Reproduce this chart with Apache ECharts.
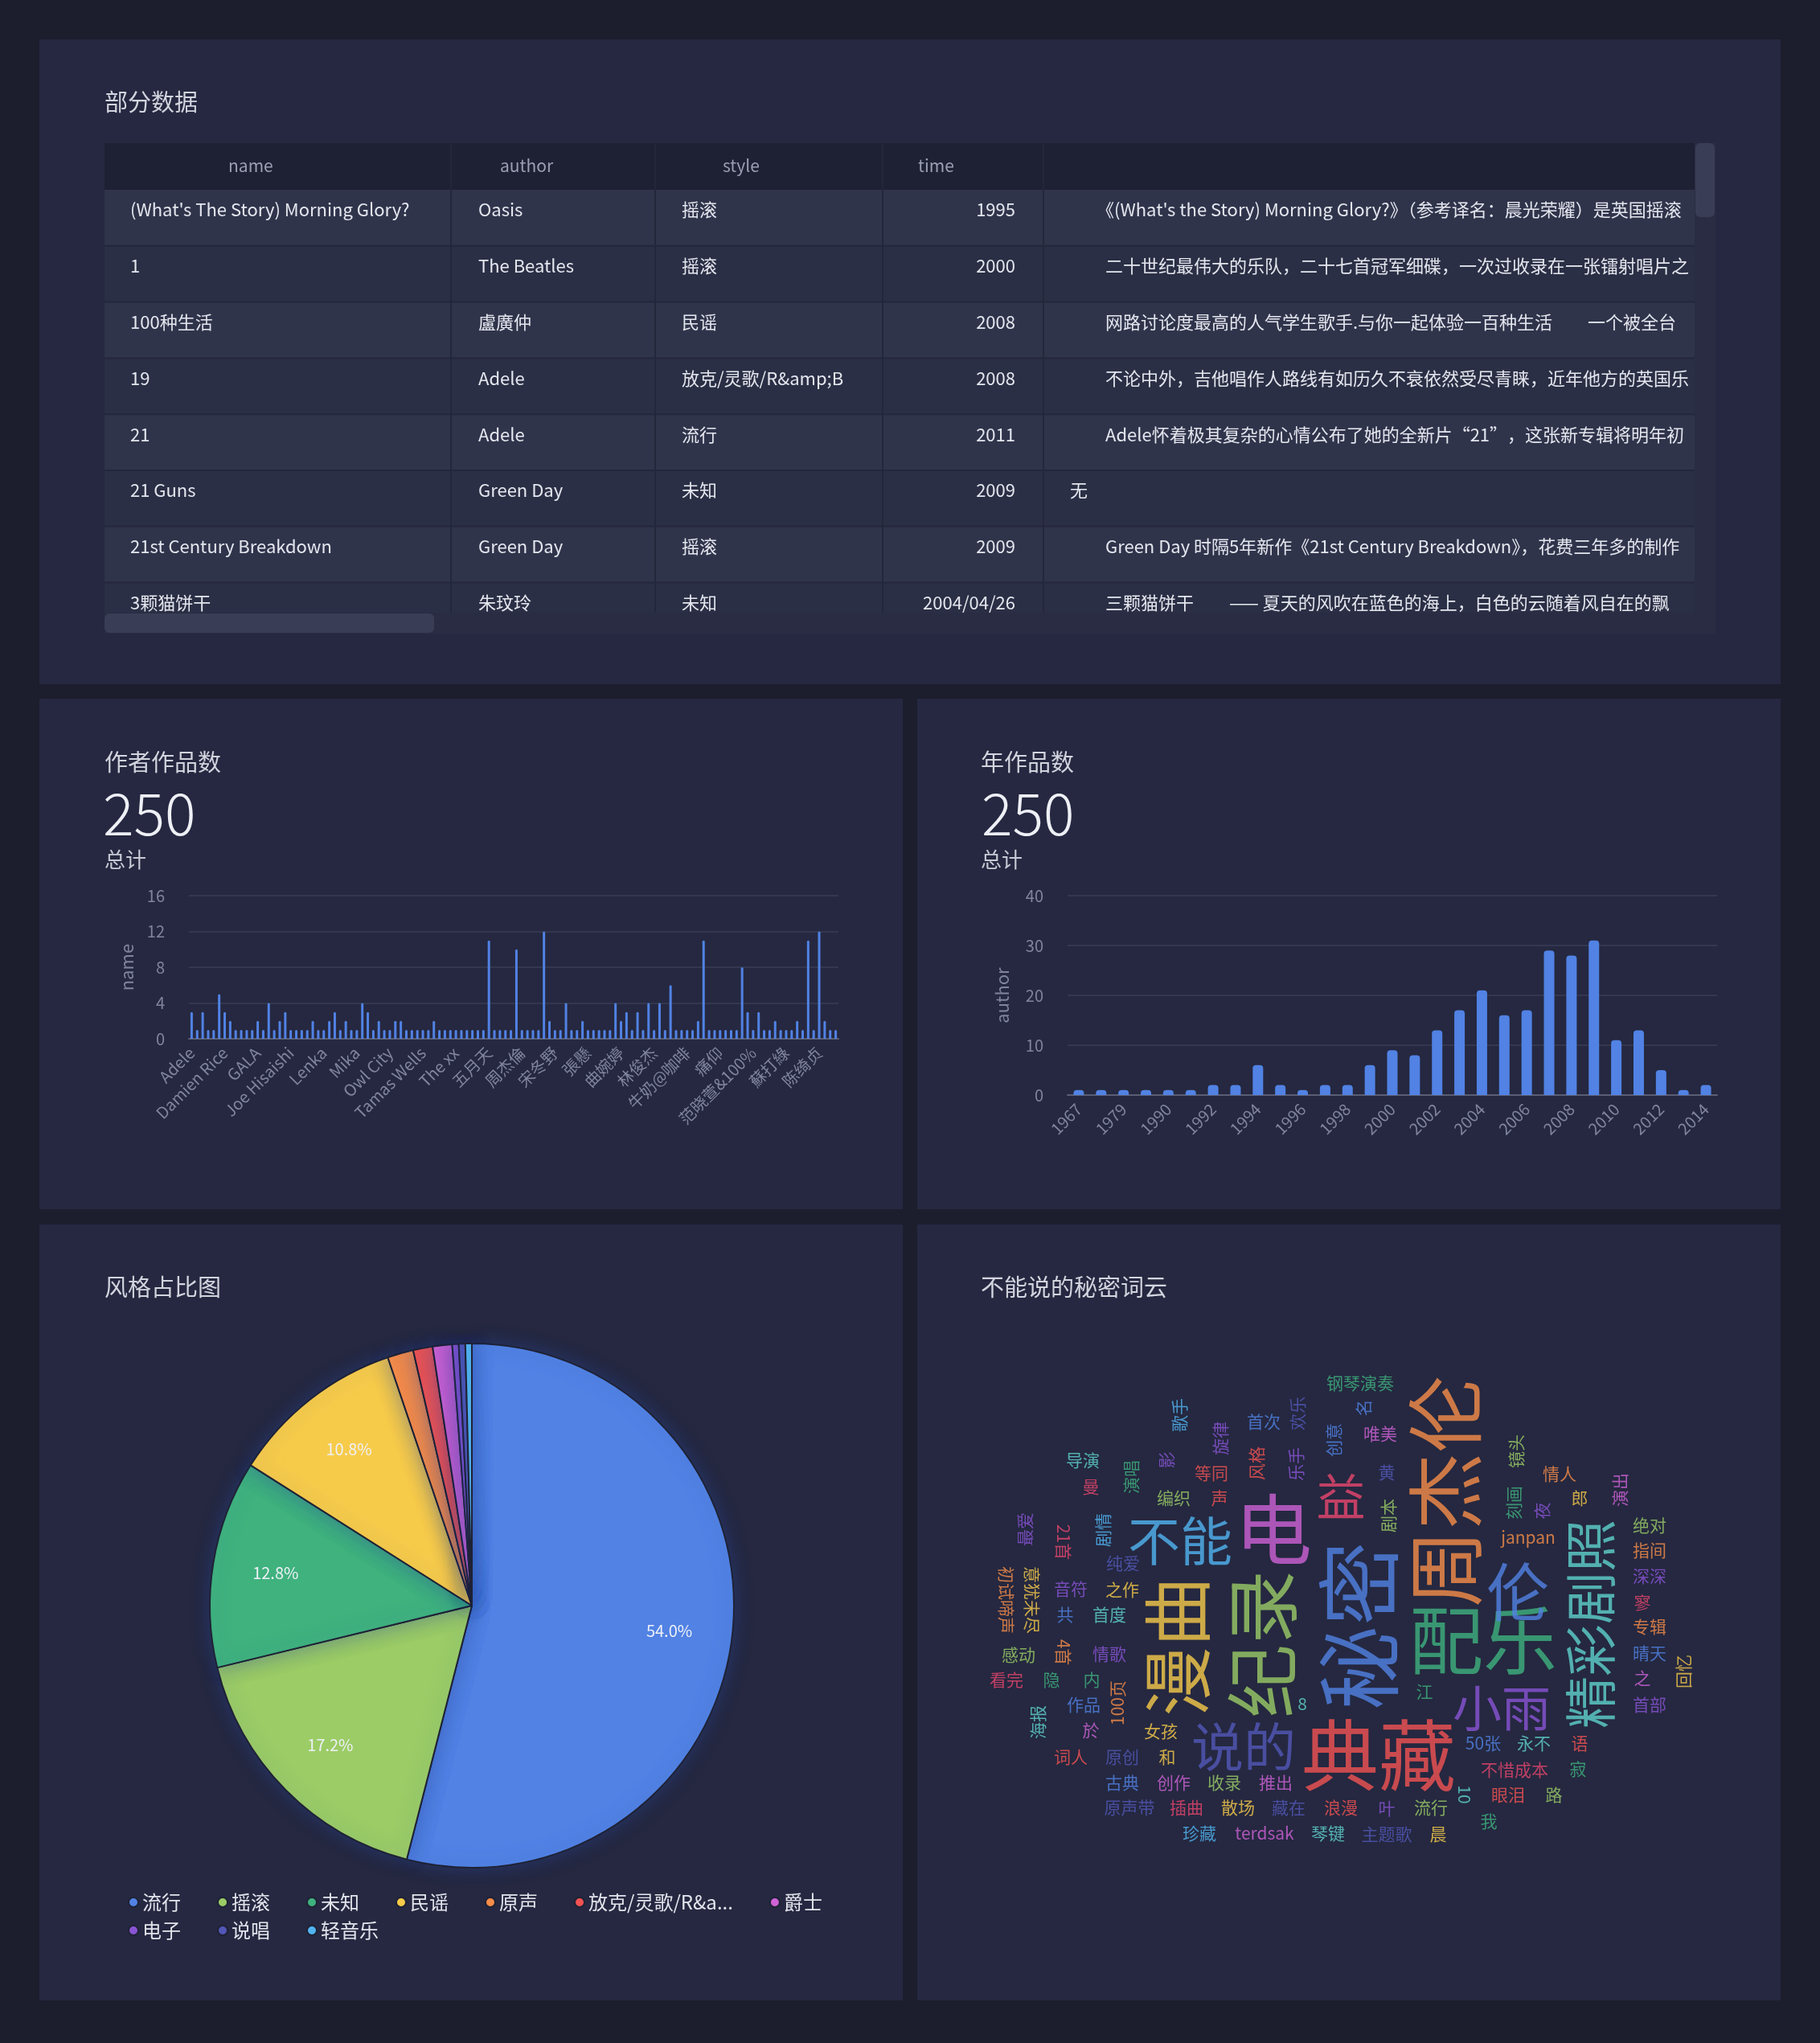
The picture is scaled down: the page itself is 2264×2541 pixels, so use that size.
<!DOCTYPE html>
<html>
<head>
<meta charset="utf-8">
<script src="https://cdn.jsdelivr.net/npm/echarts@6/dist/echarts.min.js"></script>
<style>
html,body{margin:0;padding:0;background:#1c1e2e;}
#wrap{position:relative;width:2264px;height:2541px;overflow:hidden;}
.panel{position:absolute;background:#252840;}
#c{position:absolute;left:0;top:0;width:2264px;height:2541px;}
</style>
</head>
<body>
<div id="wrap">
<div class="panel" style="left:49px;top:49px;width:2166px;height:802px"></div>
<div class="panel" style="left:49px;top:869px;width:1074px;height:635px"></div>
<div class="panel" style="left:1141px;top:869px;width:1074px;height:635px"></div>
<div class="panel" style="left:49px;top:1523px;width:1074px;height:965px"></div>
<div class="panel" style="left:1141px;top:1523px;width:1074px;height:965px"></div>
<div id="c"></div>
</div>
<script>
// ---------------- DATA ----------------
const tableColumns = ['name', 'author', 'style', 'time'];
const tableName = ["(What's The Story) Morning Glory?", "1", "100种生活", "19", "21", "21 Guns", "21st Century Breakdown", "3颗猫饼干"];
const tableAuthor = ["Oasis", "The Beatles", "盧廣仲", "Adele", "Adele", "Green Day", "Green Day", "朱玟玲"];
const tableStyle = ["摇滚", "摇滚", "民谣", "放克/灵歌/R&amp;B", "流行", "未知", "摇滚", "未知"];
const tableTime = ["1995", "2000", "2008", "2008", "2011", "2009", "2009", "2004/04/26"];
const tableDesc = [
  "　　《(What's the Story) Morning Glory?》（参考译名：晨光荣耀）是英国摇滚乐队Oasis的第二张录音室专辑",
  "　　二十世纪最伟大的乐队，二十七首冠军细碟，一次过收录在一张镭射唱片之中",
  "　　网路讨论度最高的人气学生歌手.与你一起体验一百种生活　　一个被全台湾网友热烈讨论的名字",
  "　　不论中外，吉他唱作人路线有如历久不衰依然受尽青睐，近年他方的英国乐坛更是如此",
  "　　Adele怀着极其复杂的心情公布了她的全新片“21”，这张新专辑将明年初发行",
  "无",
  "　　Green Day 时隔5年新作《21st Century Breakdown》，花费三年多的制作时间",
  "　　三颗猫饼干　　—— 夏天的风吹在蓝色的海上，白色的云随着风自在的飘"
];

const authorNames = [
  'Adele','Aimer','Avril Lavigne','Beyond','Bruno Mars','Coldplay','Damien Rice','Dido','Eagles','Eminem',
  'Enya','Explosions in the Sky','GALA','Glen Hansard','Green Day','Hanson','Hoobastank','Jason Mraz','Joe Hisaishi','John Lennon',
  'Justin Bieber','Keane','Kenny G','Lady Gaga','Lenka','Lily Allen','Linkin Park','Maroon 5','Michael Jackson','Michael Learns To Rock',
  'Mika','Muse','Norah Jones','Oasis','One Direction','OneRepublic','Owl City','Radiohead','Rihanna','S.H.E',
  'Sigur Rós','Suede','Tamas Wells','Taylor Swift','The Beatles','The Carpenters','The Cranberries','The Script','The xx','Westlife',
  'Yiruma','丁当','万能青年旅店','久石让','五月天','伍佰','光良','刘若英','周传雄','周杰伦',
  '周杰倫','品冠','好妹妹乐队','姜育恒','孙燕姿','宇多田光','宋冬野','庾澄庆','张学友','张惠妹',
  '张悬','张震岳','張懸','後弦','徐佳莹','戴佩妮','方大同','易桀齐','曲婉婷','李健',
  '李宗盛','李志','李荣浩','杨乃文','林俊杰','林宥嘉','林忆莲','梁静茹','水木年华','汪峰',
  '牛奶@咖啡','王力宏','王菲','田馥甄','电台情歌','留声','痛仰','白安','石进','程璧',
  '羽泉','老狼','范晓萱&100%','莫文蔚','萧敬腾','落日飞车','蔡依林','蔡健雅','蘇打綠','许巍',
  '谢安琪','赵雷','逃跑计划','邓紫棋','陈绮贞','陶喆','面孔','齐秦'
];
const authorCounts = [
  3,1,3,1,1,5,3,2,1,1,
  1,1,2,1,4,1,2,3,1,1,
  1,1,2,1,1,2,3,1,2,1,
  1,4,3,1,2,1,1,2,2,1,
  1,1,1,1,2,1,1,1,1,1,
  1,1,1,1,11,1,1,1,1,10,
  1,1,1,1,12,2,1,1,4,1,
  1,2,1,1,1,1,1,4,2,3,
  1,3,1,4,1,4,1,6,1,1,
  1,1,2,11,1,1,1,1,1,1,
  8,3,1,3,1,1,2,1,1,1,
  2,1,11,1,12,2,1,1
];

const yearLabels = ['1967','1975','1979','1985','1990','1991','1992','1993','1994','1995','1996','1997','1998','1999','2000','2001','2002','2003','2004','2005','2006','2007','2008','2009','2010','2011','2012','2013','2014'];
const yearCounts = [1,1,1,1,1,1,2,2,6,2,1,2,2,6,9,8,13,17,21,16,17,29,28,31,11,13,5,1,2];

const styleNames = ['流行','摇滚','未知','民谣','原声','放克/灵歌/R&amp;B','爵士','电子','说唱','轻音乐'];
const styleCounts = [135,43,32,27,4,3,3,1,1,1];

const cloudWords = [
  '秘密','周杰伦','典藏','电','配乐','纪录','漫曲','伦','精彩剧照','不能','说的','小雨','益',
  '钢琴演奏','歌手','首次','欢乐','旋律','创意','导演','曼','演唱','影','等同','风格','乐手','编织','声',
  '最爱','21首','剧情','纯爱','初试啼声','意犹未尽','音符','之作','共','首度','名','唯美','黄','剧本','镜头',
  '情人','演出','刻画','夜','郎','janpan','绝对','指间','深深','寥','感动','4首','情歌','看完','隐','内',
  '100页','作品','海报','於','女孩','8','词人','原创','和','古典','创作','收录','推出','原声带','插曲','散场',
  '藏在','浪漫','珍藏','terdsak','琴键','专辑','晴天','回忆','之','首部','江','50张','永不','语','不惜成本',
  '寂','10','眼泪','路','叶','流行','我','主题歌','晨'];
const cloudWeights = [
  20,18,18,18,17,17,16,14,11,11,11,10,10,
  1,1,1,1,1,1,1,1,1,1,1,1,1,1,1,
  1,1,1,1,1,1,1,1,1,1,1,1,1,1,1,
  1,1,1,1,1,1,1,1,1,1,1,1,1,1,1,1,
  1,1,1,1,1,1,1,1,1,1,1,1,1,1,1,1,
  1,1,1,1,1,1,1,1,1,1,1,1,1,1,1,
  1,1,1,1,1,1,1,1,1];

// ---------------- LAYOUT / STYLE ----------------
const FONT = '"Noto Sans CJK SC","Noto Sans",sans-serif';
const palette = ['#5182E4','#9BCC66','#3FB27E','#F7CB4A','#F88D48','#F35352','#CE62D6','#8954D4','#5257B8','#51B4F1','#5FD2CC','#E8466E'];
// word cloud placement (canvas px): x, y, rotate, colour index
const cloudLayout = [
  [1690,2022,90,0],[1798,1855,90,4],[1715,2183,0,5],[1584,1902,0,6],[1845,2040,0,2],[1570,2045,90,1],[1465,2048,90,3],
  [1888,1980,0,0],[1978,2020,90,10],[1468,1916,0,9],[1547,2172,0,8],[1868,2125,0,7],[1668,1862,0,11],
  [1692,1720,0,2],[1467,1760,90,9],[1572,1768,0,0],[1614,1758,90,8],[1518,1789,90,7],[1659,1791,90,0],[1347,1816,0,10],
  [1357,1849,0,11],[1407,1837,90,2],[1451,1816,90,7],[1507,1832,0,5],[1563,1820,90,5],[1612,1821,90,7],[1460,1863,0,1],[1517,1863,0,5],
  [1275,1902,90,7],[1323,1918,-90,11],[1372,1903,90,9],[1397,1944,0,8],[1252,1990,-90,4],[1284,1990,-90,3],[1332,1976,0,7],
  [1396,1977,0,3],[1325,2008,0,0],[1380,2008,0,10],[1696,1751,90,0],[1717,1783,0,6],[1725,1831,0,8],[1727,1885,90,1],[1886,1805,90,1],
  [1940,1833,0,4],[2015,1853,90,6],[1883,1869,90,2],[1918,1879,90,7],[1965,1863,0,3],[1901,1912,0,4],[2052,1897,0,1],[2052,1928,0,4],
  [2052,1960,0,7],[2043,1993,0,11],[1267,2058,0,1],[1323,2055,-90,4],[1380,2057,0,7],[1252,2089,0,11],[1308,2089,0,2],[1358,2089,0,2],
  [1390,2118,90,4],[1348,2120,0,0],[1291,2142,90,10],[1357,2152,0,6],[1444,2153,0,3],[1620,2119,0,10],[1332,2185,0,5],[1396,2185,0,8],
  [1452,2185,0,3],[1396,2217,0,0],[1460,2217,0,6],[1523,2217,0,1],[1587,2217,0,6],[1405,2248,0,8],[1476,2248,0,11],[1540,2248,0,3],
  [1603,2248,0,8],[1668,2248,0,5],[1492,2280,0,9],[1573,2280,0,6],[1652,2280,0,10],[2052,2023,0,4],[2052,2056,0,0],[2094,2079,90,3],
  [2043,2087,0,6],[2052,2120,0,7],[1772,2104,0,2],[1845,2168,0,0],[1908,2168,0,10],[1965,2168,0,5],[1884,2201,0,11],
  [1963,2200,0,2],[1822,2232,-90,10],[1876,2232,0,5],[1933,2232,0,1],[1725,2249,0,7],[1780,2248,0,1],[1852,2265,0,2],[1725,2281,0,8],[1789,2281,0,3]
];

// ---------------- BUILD ----------------
const total = authorCounts.reduce((a, b) => a + b, 0);
const yearTotal = yearCounts.reduce((a, b) => a + b, 0);

function txt(x, y, text, st) {
  return {
    type: 'text', x: x, y: y, z: 10, silent: true,
    style: Object.assign({
      text: text, fill: '#e4e6ee', fontSize: 22, fontFamily: FONT,
      textAlign: 'left', align: 'left', textVerticalAlign: 'middle', verticalAlign: 'middle'
    }, st || {})
  };
}
function rect(x, y, w, h, fill, r) {
  return { type: 'rect', z: 5, silent: true, shape: { x: x, y: y, width: w, height: h, r: r || 0 }, style: { fill: fill } };
}

const graphics = [];
// table
const colX = [130, 561, 815, 1098, 1298, 2108];
const headTop = 178, headH = 58, rowH = 69.8, bodyBottom = 762;
graphics.push(rect(130, headTop, 1978, headH, '#1e2134'));
for (let i = 0; i < tableName.length; i++) {
  const top = headTop + headH + i * rowH;
  const h = Math.min(rowH, bodyBottom - top);
  graphics.push(rect(130, top, 1978, h, i % 2 === 0 ? '#30344b' : '#2b2f45'));
  if (i > 0) graphics.push(rect(130, top - 1, 1978, 2, '#24273b'));
}
for (let c = 1; c < 5; c++) graphics.push(rect(colX[c] - 1, headTop, 2, bodyBottom - headTop, '#24273b'));
const headTextX = [284, 622, 899, 1142];
tableColumns.forEach((col, c) => graphics.push(txt(headTextX[c], headTop + 28, col, { fill: '#9a9eb3', fontSize: 21 })));
for (let i = 0; i < tableName.length; i++) {
  const y = headTop + headH + i * rowH + 25;
  graphics.push(txt(162, y, tableName[i]));
  graphics.push(txt(595, y, tableAuthor[i]));
  graphics.push(txt(848, y, tableStyle[i]));
  graphics.push(txt(1263, y, tableTime[i], { textAlign: 'right', align: 'right' }));
  graphics.push(txt(1331, y, tableDesc[i], { width: 777, overflow: 'truncate', ellipsis: '' }));
}
// scrollbars
graphics.push(rect(130, 762, 1978, 26, '#292c42'));
graphics.push(rect(130, 763, 410, 24, '#393d55', 6));
graphics.push(rect(2108, 178, 26, 610, '#292c42'));
graphics.push(rect(2109, 178, 24, 92, '#393d55', 6));

// titles and KPIs
graphics.push(txt(130, 127, '部分数据', { fontSize: 29, fill: '#d2d4de' }));
graphics.push(txt(130, 948, '作者作品数', { fontSize: 29, fill: '#d2d4de' }));
graphics.push(txt(128, 1012, String(total), { fontSize: 72, fill: '#eef0f6', fontWeight: 300 }));
graphics.push(txt(130, 1069, '总计', { fontSize: 26, fill: '#c8cad6' }));
graphics.push(txt(1220, 948, '年作品数', { fontSize: 29, fill: '#d2d4de' }));
graphics.push(txt(1221, 1012, String(yearTotal), { fontSize: 72, fill: '#eef0f6', fontWeight: 300 }));
graphics.push(txt(1220, 1069, '总计', { fontSize: 26, fill: '#c8cad6' }));
graphics.push(txt(130, 1601, '风格占比图', { fontSize: 29, fill: '#d2d4de' }));
graphics.push(txt(1220, 1601, '不能说的秘密词云', { fontSize: 29, fill: '#d2d4de' }));

const axisLabelColor = '#80859b';
const splitColor = '#33374f';
const pieData = styleNames.map((n, i) => ({ name: n, value: styleCounts[i] }));
const cloudData = cloudWords.map((w, i) => {
  const L = cloudLayout[i];
  const wt = cloudWeights[i];
  return {
    name: w, value: [L[0], L[1]],
    label: { formatter: w, fontSize: Math.round(21 + (wt - 1) * 84 / 19), rotate: L[2], color: palette[L[3]] }
  };
});

const legendBase = {
  padding: 0, icon: 'circle', itemWidth: 12, itemHeight: 12, itemGap: 45, selectedMode: false,
  formatter: n => (n.length > 10 ? n.slice(0, 9) + '...' : n),
  textStyle: { color: '#e2e4ec', fontSize: 24, fontFamily: FONT }
};

const option = {
  animation: false,
  backgroundColor: 'transparent',
  color: palette,
  textStyle: { fontFamily: FONT },
  graphic: { elements: graphics },
  grid: [
    { left: 235, top: 1114, width: 808, height: 178 },
    { left: 1328, top: 1114, width: 808, height: 248 },
    { left: 1141, top: 1523, width: 1074, height: 965 }
  ],
  xAxis: [
    { gridIndex: 0, type: 'category', data: authorNames,
      axisTick: { show: false }, axisLine: { lineStyle: { color: '#5a5e74', width: 2 } },
      axisLabel: { interval: 5, rotate: 45, color: axisLabelColor, fontSize: 20, margin: 14, fontFamily: FONT } },
    { gridIndex: 1, type: 'category', data: yearLabels,
      axisTick: { show: false }, axisLine: { lineStyle: { color: '#5a5e74', width: 2 } },
      axisLabel: { interval: 1, rotate: 45, color: axisLabelColor, fontSize: 20, margin: 14, fontFamily: FONT } },
    { gridIndex: 2, type: 'value', min: 1141, max: 2215, show: false }
  ],
  yAxis: [
    { gridIndex: 0, type: 'value', min: 0, max: 16, interval: 4,
      name: 'name', nameLocation: 'middle', nameGap: 66, nameTextStyle: { color: axisLabelColor, fontSize: 22 },
      axisLine: { show: false }, axisTick: { show: false },
      axisLabel: { color: axisLabelColor, fontSize: 20, margin: 30 },
      splitLine: { lineStyle: { color: splitColor, width: 2 } } },
    { gridIndex: 1, type: 'value', min: 0, max: 40, interval: 10,
      name: 'author', nameLocation: 'middle', nameGap: 70, nameTextStyle: { color: axisLabelColor, fontSize: 22 },
      axisLine: { show: false }, axisTick: { show: false },
      axisLabel: { color: axisLabelColor, fontSize: 20, margin: 30 },
      splitLine: { lineStyle: { color: splitColor, width: 2 } } },
    { gridIndex: 2, type: 'value', min: 1523, max: 2488, inverse: true, show: false }
  ],
  legend: [
    Object.assign({}, legendBase, { data: styleNames.slice(0, 7), left: 159, top: 2354 }),
    Object.assign({}, legendBase, { data: styleNames.slice(7), left: 159, top: 2389 })
  ],
  series: [
    { type: 'bar', xAxisIndex: 0, yAxisIndex: 0, data: authorCounts, barWidth: 3,
      itemStyle: { color: '#5182E4', borderRadius: [2, 2, 0, 0] } },
    { type: 'bar', xAxisIndex: 1, yAxisIndex: 1, data: yearCounts, barWidth: 13,
      itemStyle: { color: '#5182E4', borderRadius: [4, 4, 0, 0] } },
    { type: 'pie', center: [587, 1997], radius: 326, startAngle: 90, clockwise: true,
      data: pieData, label: { show: false }, labelLine: { show: false },
      itemStyle: { borderColor: '#1f2235', borderWidth: 2, shadowBlur: 24, shadowColor: 'rgba(40,70,160,0.45)' },
      emphasis: { disabled: true } },
    { type: 'pie', center: [587, 1997], radius: [163, 326], startAngle: 90, clockwise: true, silent: true,
      data: pieData, itemStyle: { color: 'rgba(0,0,0,0)', borderWidth: 0 }, labelLine: { show: false },
      label: { show: true, position: 'inside', color: '#eef0f6', fontSize: 20, fontFamily: FONT,
        formatter: p => (p.percent >= 5 ? p.percent.toFixed(1) + '%' : '') },
      emphasis: { disabled: true } },
    { type: 'scatter', xAxisIndex: 2, yAxisIndex: 2, symbolSize: 1, silent: true,
      itemStyle: { color: 'rgba(0,0,0,0)' },
      label: { show: true, position: 'inside', fontFamily: FONT },
      data: cloudData }
  ]
};

const chart = echarts.init(document.getElementById('c'), null, { renderer: 'canvas' });
chart.setOption(option);
</script>
</body>
</html>
